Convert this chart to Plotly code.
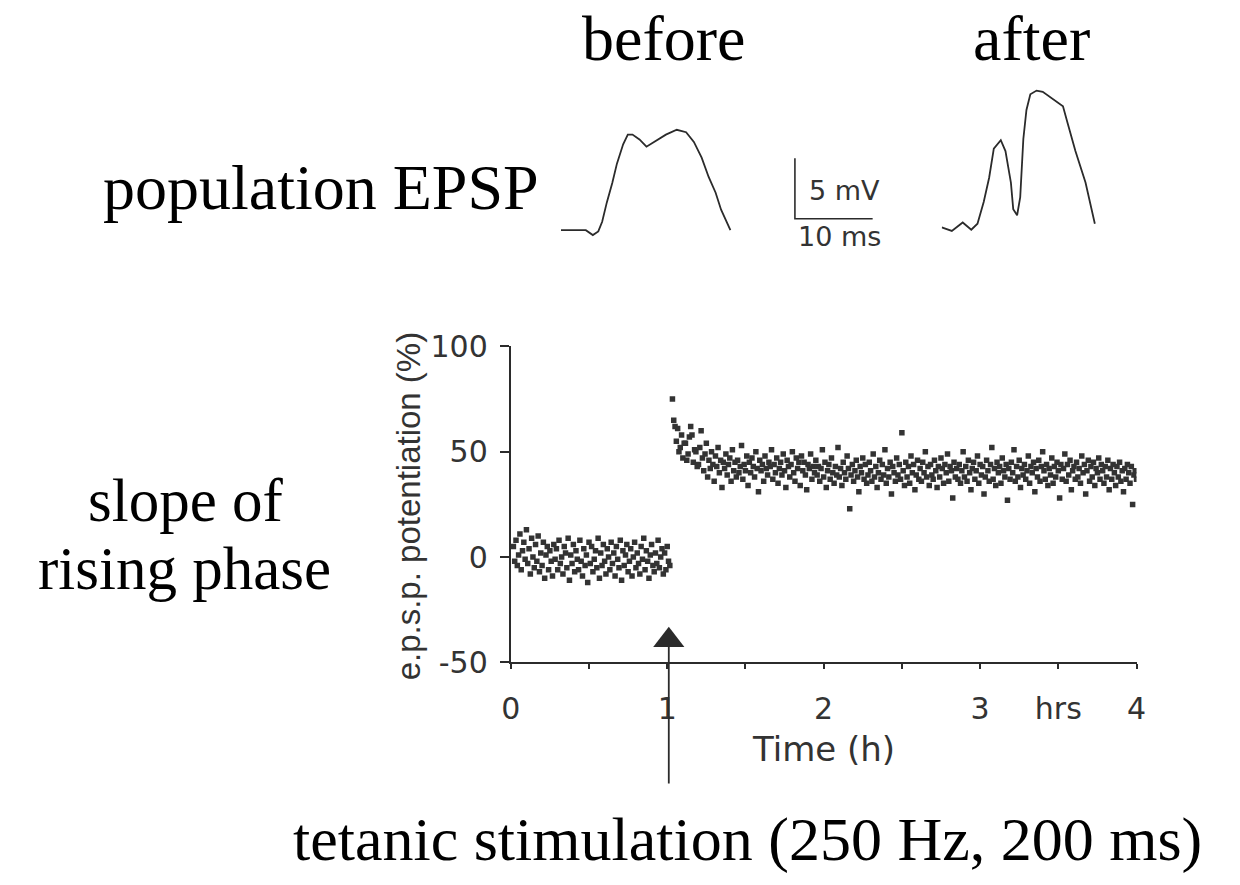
import plotly.graph_objects as go

# ---------------- data ----------------
# e.p.s.p. slope potentiation (%) vs time (minutes), before tetanus
before_min = [
    1, 1.5, 2, 2.5, 3, 3.5, 4, 4.5, 5, 5.5,
    6, 6.5, 7, 7.5, 8, 8.5, 9, 9.5, 10, 10.5,
    11, 11.5, 12, 12.5, 13, 13.5, 14, 14.5, 15, 15.5,
    16, 16.5, 17, 17.5, 18, 18.5, 19, 19.5, 20, 20.5,
    21, 21.5, 22, 22.5, 23, 23.5, 24, 24.5, 25, 25.5,
    26, 26.5, 27, 27.5, 28, 28.5, 29, 29.5, 30, 30.5,
    31, 31.5, 32, 32.5, 33, 33.5, 34, 34.5, 35, 35.5,
    36, 36.5, 37, 37.5, 38, 38.5, 39, 39.5, 40, 40.5,
    41, 41.5, 42, 42.5, 43, 43.5, 44, 44.5, 45, 45.5,
    46, 46.5, 47, 47.5, 48, 48.5, 49, 49.5, 50, 50.5,
    51, 51.5, 52, 52.5, 53, 53.5, 54, 54.5, 55, 55.5,
    56, 56.5, 57, 57.5, 58, 58.5, 59, 59.5, 60, 60.5,
    61,
]
before_pct = [
    5, -2, 8, -4, 1, 11, -6, 3, 7, -1,
    13, -3, 4, -8, 9, 0, -5, 6, -2, 10,
    -7, 2, -4, 7, -10, 1, 5, -6, 3, -2,
    -9, 6, -1, 4, -6, 8, -3, 0, -8, 5,
    2, -5, 9, -11, 1, -3, 6, -7, 3, -1,
    -6, 8, -2, -9, 4, -4, 1, -12, 7, -3,
    5, -7, -1, 3, -5, 9, -10, 2, -4, 6,
    -2, -8, 4, 0, -6, 7, -3, 2, -9, 5,
    -1, -5, 8, -11, 3, -4, 1, 6, -7, -2,
    4, -9, 0, 7, -5, 2, -3, -8, 5, -1,
    9, -6, 3, -2, -10, 1, 6, -4, -7, 2,
    -3, 8, -5, 0, 4, -8, 2, -6, 5, -2,
    -4,
]

# after tetanus
after_min = [
    62, 62.5, 63, 63.5, 64, 64.5, 65, 65.5, 66, 66.5,
    67, 67.5, 68, 68.5, 69, 69.5, 70, 70.5, 71, 71.5,
    72, 72.5, 73, 73.5, 74, 74.5, 75, 75.5, 76, 76.5,
    77, 77.5, 78, 78.5, 79, 79.5, 80, 80.5, 81, 81.5,
    82, 82.5, 83, 83.5, 84, 84.5, 85, 85.5, 86, 86.5,
    87, 87.5, 88, 88.5, 89, 89.5, 90, 90.5, 91, 91.5,
    92, 92.5, 93, 93.5, 94, 94.5, 95, 95.5, 96, 96.5,
    97, 97.5, 98, 98.5, 99, 99.5, 100, 100.5, 101, 101.5,
    102, 102.5, 103, 103.5, 104, 104.5, 105, 105.5, 106, 106.5,
    107, 107.5, 108, 108.5, 109, 109.5, 110, 110.5, 111, 111.5,
    112, 112.5, 113, 113.5, 114, 114.5, 115, 115.5, 116, 116.5,
    117, 117.5, 118, 118.5, 119, 119.5, 120, 120.5, 121, 121.5,
    122, 122.5, 123, 123.5, 124, 124.5, 125, 125.5, 126, 126.5,
    127, 127.5, 128, 128.5, 129, 129.5, 130, 130.5, 131, 131.5,
    132, 132.5, 133, 133.5, 134, 134.5, 135, 135.5, 136, 136.5,
    137, 137.5, 138, 138.5, 139, 139.5, 140, 140.5, 141, 141.5,
    142, 142.5, 143, 143.5, 144, 144.5, 145, 145.5, 146, 146.5,
    147, 147.5, 148, 148.5, 149, 149.5, 150, 150.5, 151, 151.5,
    152, 152.5, 153, 153.5, 154, 154.5, 155, 155.5, 156, 156.5,
    157, 157.5, 158, 158.5, 159, 159.5, 160, 160.5, 161, 161.5,
    162, 162.5, 163, 163.5, 164, 164.5, 165, 165.5, 166, 166.5,
    167, 167.5, 168, 168.5, 169, 169.5, 170, 170.5, 171, 171.5,
    172, 172.5, 173, 173.5, 174, 174.5, 175, 175.5, 176, 176.5,
    177, 177.5, 178, 178.5, 179, 179.5, 180, 180.5, 181, 181.5,
    182, 182.5, 183, 183.5, 184, 184.5, 185, 185.5, 186, 186.5,
    187, 187.5, 188, 188.5, 189, 189.5, 190, 190.5, 191, 191.5,
    192, 192.5, 193, 193.5, 194, 194.5, 195, 195.5, 196, 196.5,
    197, 197.5, 198, 198.5, 199, 199.5, 200, 200.5, 201, 201.5,
    202, 202.5, 203, 203.5, 204, 204.5, 205, 205.5, 206, 206.5,
    207, 207.5, 208, 208.5, 209, 209.5, 210, 210.5, 211, 211.5,
    212, 212.5, 213, 213.5, 214, 214.5, 215, 215.5, 216, 216.5,
    217, 217.5, 218, 218.5, 219, 219.5, 220, 220.5, 221, 221.5,
    222, 222.5, 223, 223.5, 224, 224.5, 225, 225.5, 226, 226.5,
    227, 227.5, 228, 228.5, 229, 229.5, 230, 230.5, 231, 231.5,
    232, 232.5, 233, 233.5, 234, 234.5, 235, 235.5, 236, 236.5,
    237, 237.5, 238, 238.5, 239, 239.5, 240,
]
after_pct = [
    75, 65, 62, 55, 61, 50, 52, 58, 47, 54,
    54, 46, 49, 57, 62, 58, 45, 51, 50, 43,
    44, 52, 60, 47, 41, 49, 54, 38, 46, 42,
    50, 44, 36, 48, 43, 52, 40, 46, 33, 45,
    42, 49, 39, 44, 47, 36, 51, 41, 45, 38,
    46, 40, 43, 53, 37, 44, 41, 48, 34, 45,
    40, 47, 43, 38, 50, 42, 31, 46, 41, 44,
    36, 48, 42, 39, 45, 43, 51, 37, 44, 40,
    47, 35, 42, 45, 39, 49, 41, 33, 46, 43,
    38, 44, 50, 40, 36, 47, 42, 45, 34, 48,
    41, 45, 39, 32, 44, 42, 49, 37, 43, 40,
    46, 39, 43, 36, 42, 51, 38, 45, 33, 41,
    44, 37, 47, 40, 35, 43, 39, 52, 38, 42,
    34, 45, 40, 37, 48, 42, 23, 39, 44, 36,
    41, 46, 38, 31, 43, 40, 47, 37, 44, 35,
    39, 45, 41, 36, 49, 38, 43, 33, 40, 46,
    37, 44, 39, 51, 35, 42, 38, 45, 30, 43,
    40, 36, 47, 39, 44, 37, 59, 41, 34, 45,
    38, 43, 35, 48, 40, 44, 32, 39, 46, 37,
    42, 36, 45, 40, 50, 38, 43, 34, 44, 39,
    37, 46, 41, 33, 43, 38, 47, 42, 35, 44,
    40, 49, 36, 43, 41, 28, 45, 38, 42, 37,
    44, 35, 41, 50, 38, 43, 36, 46, 40, 32,
    42, 45, 37, 41, 48, 35, 44, 39, 43, 30,
    38, 46, 41, 36, 44, 52, 37, 42, 34, 45,
    40, 43, 35, 47, 41, 38, 44, 27, 42, 37,
    45, 40, 51, 36, 43, 38, 46, 33, 42, 39,
    44, 37, 41, 48, 35, 43, 40, 45, 31, 42,
    38, 46, 36, 43, 50, 41, 37, 44, 34, 42,
    39, 47, 35, 43, 38, 45, 41, 28, 44, 37,
    42, 49, 36, 44, 39, 46, 32, 41, 43, 37,
    45, 38, 42, 35, 48, 40, 44, 30, 41, 46,
    36, 43, 38, 45, 34, 42, 40, 47, 37, 44,
    41, 35, 43, 38, 46, 32, 42, 37, 44, 40,
    34, 43, 38, 45, 36, 41, 31, 42, 37, 44,
    40, 35, 43, 25, 39, 41, 37,
]

# population EPSP traces (ms, mV)
before_trace_ms = [0, 1.9, 3.2, 4.1, 4.8, 5.3, 5.9, 6.6, 7.2, 8.0, 8.6, 9.2, 10.1, 11.0,
                   12.0, 13.5, 14.9, 16.1, 17.1, 18.1, 19.0, 19.9, 20.6, 21.8]
before_trace_mv = [0, 0, 0, -0.4, -0.1, 0.7, 2.3, 3.9, 5.5, 7.1, 7.9, 7.9, 7.5, 6.9,
                   7.3, 7.9, 8.3, 8.1, 7.3, 6.0, 4.4, 3.1, 1.7, 0]
after_trace_ms = [0, 1.3, 2.7, 3.8, 4.6, 5.4, 6.1, 6.7, 7.6, 8.2, 8.9, 9.2, 9.7, 10.1,
                  10.5, 10.9, 11.4, 12.2, 13.0, 14.3, 15.6, 16.2, 17.2, 18.5, 19.7]
after_trace_mv = [0, -0.3, 0.4, -0.2, 0.3, 2.1, 4.1, 6.5, 7.2, 6.3, 3.7, 1.5, 1.0, 2.5,
                  7.3, 9.7, 11.0, 11.3, 11.2, 10.6, 10.0, 8.6, 6.3, 3.7, 0.3]

# scale bar (in the "before" trace axes)
scale_t0, scale_v0 = 30.1, 0.95
scale_ms, scale_mv = 10, 5

# tetanic stimulation time (h)
stim_h = 1.01

x_tickvals = [0, 0.5, 1, 1.5, 2, 2.5, 3, 3.5, 4]
x_ticktext = ["0", "", "1", "", "2", "", "3", "hrs", "4"]
y_tickvals = [-50, 0, 50, 100]
y_ticktext = ["-50", "0", "50", "100"]

# ---------------- figure ----------------
W, H = 1240, 885
INK = "#2b2b2b"
SANS = "DejaVu Sans"
SERIF = "Liberation Serif"


def px(x):
    return x / W


def py(y):
    return 1 - y / H


fig = go.Figure()

dot = dict(symbol="square", size=5.5, color="#333333", line=dict(width=0))
fig.add_trace(go.Scatter(
    x=[m / 60 for m in before_min], y=before_pct, mode="markers", marker=dot,
    xaxis="x", yaxis="y", showlegend=False, hoverinfo="skip"))
fig.add_trace(go.Scatter(
    x=[m / 60 for m in after_min], y=after_pct, mode="markers", marker=dot,
    xaxis="x", yaxis="y", showlegend=False, hoverinfo="skip"))

# stimulation arrow head
fig.add_trace(go.Scatter(
    x=[stim_h], y=[-39.5], mode="markers", cliponaxis=False,
    marker=dict(symbol="triangle-up", size=27, color=INK, line=dict(width=0)),
    xaxis="x", yaxis="y", showlegend=False, hoverinfo="skip"))

# EPSP traces
fig.add_trace(go.Scatter(
    x=before_trace_ms, y=before_trace_mv, mode="lines",
    line=dict(color=INK, width=1.8), xaxis="x2", yaxis="y2",
    showlegend=False, hoverinfo="skip"))
fig.add_trace(go.Scatter(
    x=after_trace_ms, y=after_trace_mv, mode="lines",
    line=dict(color=INK, width=1.8), xaxis="x3", yaxis="y3",
    showlegend=False, hoverinfo="skip"))
# scale bar
fig.add_trace(go.Scatter(
    x=[scale_t0, scale_t0, scale_t0 + scale_ms],
    y=[scale_v0 + scale_mv, scale_v0, scale_v0],
    mode="lines", line=dict(color=INK, width=1.6), xaxis="x2", yaxis="y2",
    showlegend=False, hoverinfo="skip"))

hidden = dict(visible=False, showgrid=False, zeroline=False, fixedrange=True)

fig.update_layout(
    width=W, height=H,
    margin=dict(l=0, r=0, t=0, b=0),
    paper_bgcolor="white", plot_bgcolor="white",
    showlegend=False,
    xaxis=dict(
        domain=[px(509), px(1145)], range=[0, 4],
        tickvals=x_tickvals, ticktext=x_ticktext,
        ticks="outside", ticklen=5, tickwidth=1.5, tickcolor=INK,
        showline=True, linecolor=INK, linewidth=2,
        showgrid=False, zeroline=False,
        tickfont=dict(family=SANS, size=30, color="#333333"),
        ticklabelstandoff=14,
    ),
    yaxis=dict(
        domain=[py(672), py(343)], range=[-50, 100],
        tickvals=y_tickvals, ticktext=y_ticktext,
        ticks="outside", ticklen=9, tickwidth=1.5, tickcolor=INK,
        showline=True, linecolor=INK, linewidth=2,
        showgrid=False, zeroline=False,
        tickfont=dict(family=SANS, size=30, color="#333333"),
        ticklabelstandoff=6,
    ),
    xaxis2=dict(domain=[px(560), px(560 + 41 * 7.9)], range=[0, 41], anchor="y2", **hidden),
    yaxis2=dict(domain=[py(247.2), py(83.4)], range=[-2, 11], anchor="x2", **hidden),
    xaxis3=dict(domain=[px(947), px(947 + 22 * 7.9)], range=[0, 22], anchor="y3", **hidden),
    yaxis3=dict(domain=[py(244.2), py(67.8)], range=[-2, 12], anchor="x3", **hidden),
)

# stimulation line (below the axis down to the label)
fig.add_shape(type="line", xref="x", yref="paper",
              x0=stim_h, x1=stim_h, y0=py(798), y1=py(655),
              line=dict(color=INK, width=1.8))

ann = []
serif_labels = [
    ("before", 664, 22, 64),
    ("after", 1038, 22, 64),
    ("population EPSP", 316, 178, 64),
    ("slope of", 179, 503, 61),
    ("rising phase", 177, 574, 61),
    ("tetanic stimulation (250 Hz, 200 ms)", 750, 856, 62),
]
for text, x, y, s in serif_labels:
    ann.append(dict(text=text, x=px(x), y=py(y), xref="paper", yref="paper",
                    xanchor="center", yanchor="middle", showarrow=False,
                    font=dict(family=SERIF, size=s, color="black")))

ann.append(dict(text="Time (h)", x=px(827), y=py(762), xref="paper", yref="paper",
                xanchor="center", yanchor="middle", showarrow=False,
                font=dict(family=SANS, size=34, color="#333333")))
ann.append(dict(text="e.p.s.p. potentiation (%)", x=px(405), y=py(509),
                xref="paper", yref="paper", textangle=-90,
                xanchor="center", yanchor="middle", showarrow=False,
                font=dict(family="Liberation Sans", size=33, color="#333333")))
ann.append(dict(text="5 mV", x=31.6, y=3.3, xref="x2", yref="y2",
                xanchor="left", yanchor="middle", showarrow=False,
                font=dict(family=SANS, size=27, color="#333333")))
ann.append(dict(text="10 ms", x=30.2, y=-0.5, xref="x2", yref="y2",
                xanchor="left", yanchor="middle", showarrow=False,
                font=dict(family=SANS, size=27, color="#333333")))

fig.update_layout(annotations=ann)

fig.write_html("out.html", config=dict(displayModeBar=False),
               post_script="document.body.style.margin='0';")
